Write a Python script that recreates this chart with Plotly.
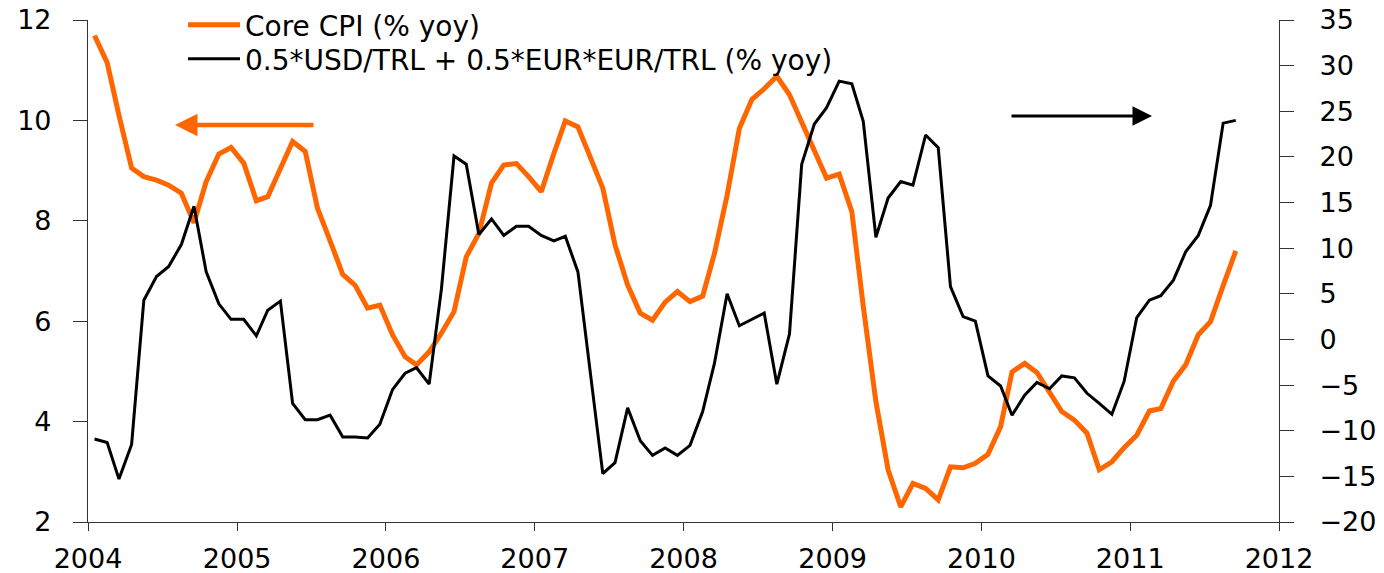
import pandas as pd
import plotly.graph_objects as go

# Monthly observations, Jan 2004 .. Sep 2011
months = pd.date_range("2004-01-01", "2011-09-01", freq="MS") + pd.Timedelta(days=16)

core_cpi = [
    11.69, 11.15, 10.10, 9.05, 8.88, 8.81, 8.71, 8.55, 7.96, 8.78, 9.33, 9.46,
    9.15, 8.40, 8.48, 9.01, 9.58, 9.38, 8.25, 7.60, 6.93, 6.72, 6.26, 6.32,
    5.73, 5.29, 5.13, 5.39, 5.76, 6.19, 7.28, 7.75, 8.75, 9.11, 9.14, 8.88,
    8.58, 9.34, 9.99, 9.87, 9.28, 8.65, 7.52, 6.72, 6.16, 6.02, 6.38, 6.59,
    6.39, 6.50, 7.35, 8.51, 9.84, 10.42, 10.63, 10.88, 10.51, 9.97, 9.44, 8.85,
    8.93, 8.18, 6.30, 4.40, 3.04, 2.30, 2.77, 2.67, 2.44, 3.10, 3.08, 3.17,
    3.35, 3.90, 4.99, 5.16, 4.98, 4.60, 4.20, 4.03, 3.77, 3.04, 3.20, 3.48,
    3.73, 4.21, 4.26, 4.81, 5.13, 5.73, 5.99, 6.71, 7.40,
]

fx_basket = [
    -10.9, -11.3, -15.3, -11.5, 4.3, 6.9, 8.0, 10.4, 14.6, 7.4, 3.9, 2.2,
    2.2, 0.4, 3.2, 4.2, -7.0, -8.8, -8.8, -8.3, -10.7, -10.7, -10.8, -9.3,
    -5.5, -3.7, -3.1, -4.9, 5.5, 20.1, 19.2, 11.5, 13.2, 11.4, 12.4, 12.4,
    11.4, 10.8, 11.3, 7.4, -3.5, -14.7, -13.5, -7.5, -11.1, -12.7, -11.9, -12.7,
    -11.6, -7.9, -2.6, 5.0, 1.5, 2.2, 2.9, -4.9, 0.6, 19.2, 23.6, 25.4,
    28.3, 28.0, 23.9, 11.2, 15.5, 17.3, 16.9, 22.4, 21.0, 5.8, 2.5, 2.0,
    -4.0, -5.1, -8.3, -6.1, -4.7, -5.4, -4.0, -4.2, -5.9, -7.0, -8.2, -4.6,
    2.4, 4.3, 4.8, 6.5, 9.6, 11.4, 14.7, 23.7, 24.0,
]

series_names = ["Core CPI (% yoy)", "0.5*USD/TRL + 0.5*EUR*EUR/TRL (% yoy)"]

ORANGE = "#FF6600"
FONT = "DejaVu Sans, Arial, sans-serif"
FS = 28
TFS = 27
AXC = "#333333"

fig = go.Figure()
fig.add_trace(go.Scatter(x=months, y=core_cpi, name=series_names[0], mode="lines",
                         line=dict(color=ORANGE, width=5), yaxis="y", legend="legend"))
fig.add_trace(go.Scatter(x=months, y=fx_basket, name=series_names[1], mode="lines",
                         line=dict(color="black", width=3), yaxis="y2", legend="legend2"))

leg_common = dict(xanchor="left", yanchor="middle", bgcolor="rgba(0,0,0,0)",
                  font=dict(size=FS, family=FONT, color="black"), itemwidth=52,
                  borderwidth=0)

tickfont = dict(size=TFS, family=FONT, color="black")

fig.update_layout(
    width=1384, height=573,
    margin=dict(l=88, r=105, t=20, b=51, autoexpand=False),
    paper_bgcolor="white", plot_bgcolor="white",
    font=dict(family=FONT, size=FS, color="black"),
    showlegend=True,
    legend=dict(x=(183 - 88) / 1191, y=(522 - 25) / 502, **leg_common),
    legend2=dict(x=(183 - 88) / 1191, y=(522 - 59) / 502, **leg_common),
    xaxis=dict(type="date", range=["2004-01-01", "2012-01-01"],
               tick0="2004-01-01", dtick="M12", tickformat="%Y", automargin=False,
               showgrid=False, zeroline=False, showline=True, linecolor=AXC, linewidth=1.2,
               ticks="outside", ticklen=8, tickcolor=AXC, tickwidth=1.2,
               ticklabelstandoff=4, tickfont=tickfont),
    yaxis=dict(range=[2, 12], dtick=2, showgrid=False, zeroline=False, automargin=False,
               showline=True, linecolor=AXC, linewidth=1.2,
               ticks="outside", ticklen=14, tickcolor=AXC, tickwidth=1.2,
               ticklabelstandoff=16, tickfont=tickfont),
    yaxis2=dict(range=[-20, 35], dtick=5, overlaying="y", side="right", anchor="x",
                automargin=False,
                showgrid=False, zeroline=False, showline=True, linecolor=AXC, linewidth=1.2,
                ticks="outside", ticklen=14, tickcolor=AXC, tickwidth=1.2,
                ticklabelstandoff=20, tickfont=tickfont),
    yaxis3=dict(range=[-20, 35], dtick=5, overlaying="y", side="right", anchor="x",
                automargin=False,
                showgrid=False, zeroline=False, showline=False, showticklabels=False,
                ticks="inside", ticklen=15, tickcolor=AXC, tickwidth=1.2),
)

# direction arrows (left axis / right axis)
fig.add_annotation(xref="paper", yref="paper", x=(175 - 88) / 1191, y=(522 - 125) / 502,
                   ax=140, ay=0, text="", showarrow=True, arrowhead=2, arrowsize=1.0,
                   arrowwidth=4.5, arrowcolor=ORANGE)
fig.add_annotation(xref="paper", yref="paper", x=(1152 - 88) / 1191, y=(522 - 116) / 502,
                   ax=-142, ay=0, text="", showarrow=True, arrowhead=2, arrowsize=1.3,
                   arrowwidth=3, arrowcolor="black")

fig.write_html("out.html", config={"displayModeBar": False},
               post_script="document.body.style.margin='0';document.body.style.padding='0';")
